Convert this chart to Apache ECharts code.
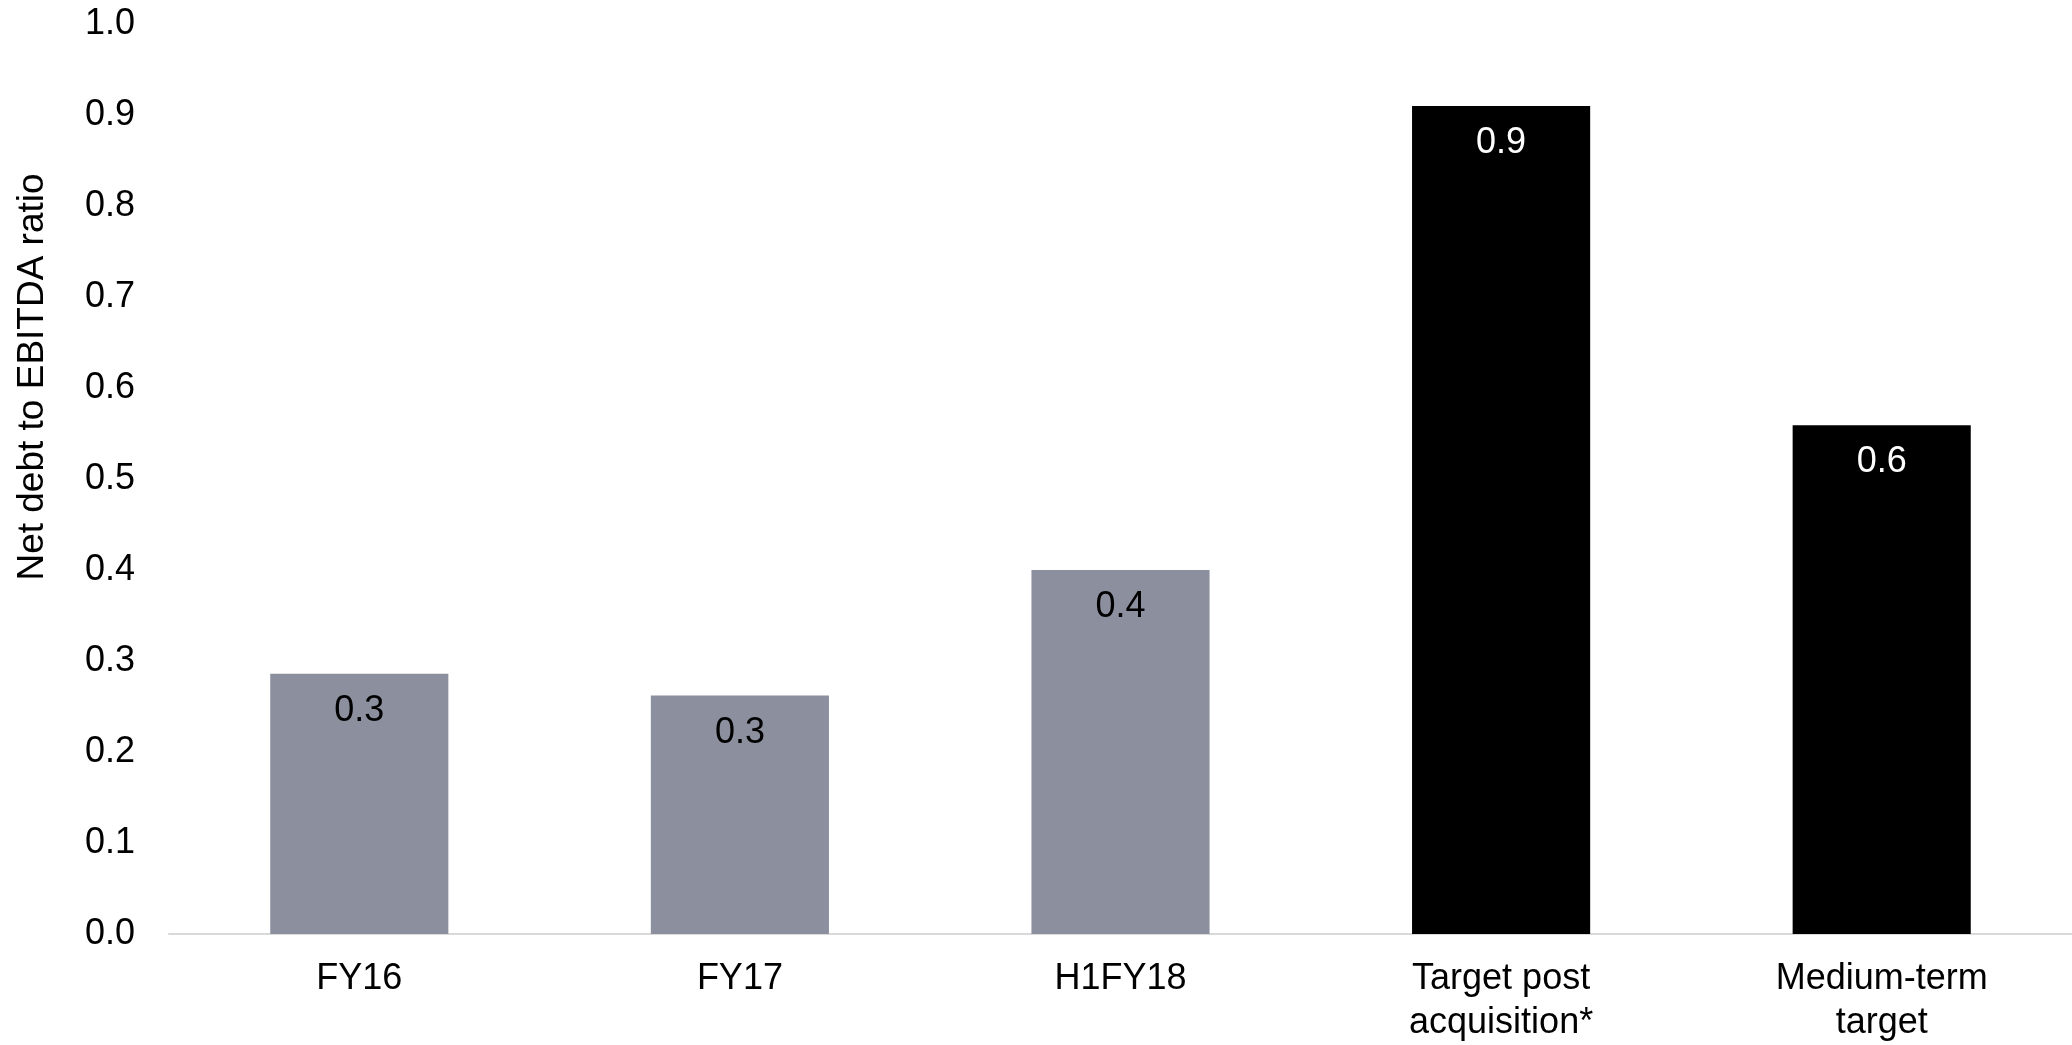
<!DOCTYPE html>
<html>
<head>
<meta charset="utf-8">
<script src="https://cdn.jsdelivr.net/npm/echarts@6/dist/echarts.min.js"></script>
<style>
html,body{margin:0;padding:0;background:#fff;}
#chart{width:2072px;height:1045px;}
</style>
</head>
<body>
<div id="chart"></div>
<script>
const categories = ['FY16', 'FY17', 'H1FY18', 'Target post\nacquisition*', 'Medium-term\ntarget'];
const values = [0.286, 0.262, 0.400, 0.910, 0.559];
const labels = ['0.3', '0.3', '0.4', '0.9', '0.6'];
const barColors = ['#8c909e', '#8c909e', '#8c909e', '#000000', '#000000'];
const labelColors = ['#000000', '#000000', '#000000', '#ffffff', '#ffffff'];
const yTicks = { min: 0, max: 1, interval: 0.1 };
const yName = 'Net debt to EBITDA ratio';

const FONT = '"Liberation Sans", Arial, sans-serif';
const chart = echarts.init(document.getElementById('chart'));
chart.setOption({
  animation: false,
  backgroundColor: '#ffffff',
  grid: { left: 169, right: 0, top: 24, bottom: 111, containLabel: false },
  xAxis: {
    type: 'category',
    data: categories,
    axisLine: { show: true, lineStyle: { color: '#d9d9d9', width: 2 } },
    axisTick: { show: false },
    axisLabel: { color: '#000', fontFamily: FONT, fontSize: 36, lineHeight: 44, margin: 23 }
  },
  yAxis: {
    type: 'value',
    min: yTicks.min, max: yTicks.max, interval: yTicks.interval,
    name: yName,
    nameLocation: 'middle',
    nameGap: 118,
    nameTextStyle: { color: '#000', fontFamily: FONT, fontSize: 37, padding: [0, 0, 0, 204] },
    axisLine: { show: false },
    axisTick: { show: false },
    splitLine: { show: false },
    axisLabel: { color: '#000', fontFamily: FONT, fontSize: 36, margin: 34, formatter: v => v.toFixed(1) }
  },
  series: [{
    type: 'bar',
    barWidth: '46.8%',
    data: values.map((v, i) => ({
      value: v,
      itemStyle: { color: barColors[i] },
      label: { color: labelColors[i] }
    })),
    label: {
      show: true,
      position: 'insideTop',
      distance: 19,
      fontFamily: FONT,
      fontSize: 36,
      formatter: p => labels[p.dataIndex]
    }
  }]
});
</script>
</body>
</html>
